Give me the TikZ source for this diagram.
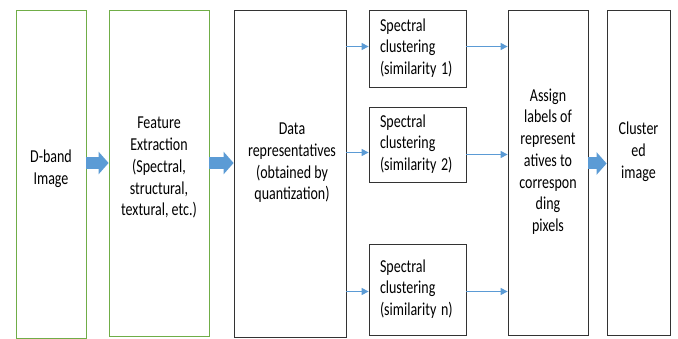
\documentclass[tikz,border=0pt]{standalone}
\usepackage{fontspec}
\setmainfont{Carlito}
\usetikzlibrary{arrows.meta}

\definecolor{boxgreen}{RGB}{112,173,71}
\definecolor{flowblue}{RGB}{91,155,213}

% text lines stretched upwards like in the picture
\newcommand{\talltext}[2][c]{\scalebox{1}[1.3]{\begin{tabular}{@{}#1@{}}#2\end{tabular}}}

\tikzset{
  greenbox/.style={draw=boxgreen, line width=0.8pt, inner sep=0pt},
  blackbox/.style={draw=black!80, line width=0.8pt, inner sep=0pt},
  scbox/.style={draw=black!80, line width=0.8pt, minimum width=97pt, text width=75pt,
    inner xsep=11pt, inner ysep=0pt, align=left},
  boxtext/.style={align=center, inner sep=0pt},
  fatarrow/.style={draw=flowblue, line width=12pt, -{Triangle[width=22pt,length=10pt]}},
  thinarrow/.style={draw=flowblue, line width=1.2pt, -{Triangle[width=7pt,length=7pt]}}
}

\begin{document}
\begin{tikzpicture}[x=1pt, y=-1pt, font=\fontsize{14}{16.7}\selectfont]
				\useasboundingbox (0,0) rectangle (678,339);
				% big boxes
				\node[greenbox, minimum width=70pt, minimum height=328pt] (band) at (51,174) {};
				\node[greenbox, minimum width=100pt, minimum height=326pt] (feat) at (159,173) {};
				\node[blackbox, minimum width=112pt, minimum height=327pt] (data) at (290,173.5) {};
				\node[blackbox, minimum width=80pt, minimum height=325pt] (assign) at (548,172.5) {};
				\node[blackbox, minimum width=63pt, minimum height=325pt] (clus) at (638.5,172.5) {};
				% texts of the big boxes
				\node[boxtext] (bandtxt) at (51,169) {\talltext{D-band\\Image}};
				\node[boxtext] (feattxt) at (159,168) {\talltext{Feature\\Extraction\\(Spectral,\\structural,\\textural, etc.)}};
				\node[boxtext] (datatxt) at (292,163) {\talltext{Data\\representatives\\(obtained by\\quantization)}};
				\node[boxtext] (assigntxt) at (548,162) {\talltext{Assign\\labels of\\represent\\atives to\\correspon\\ding\\pixels}};
				\node[boxtext] (clustxt) at (638.5,152) {\talltext{Cluster\\ed\\image}};
				% spectral clustering boxes
				\node[scbox, minimum height=77pt] (sc1) at (417.5,48.5) {\talltext[l]{Spectral\\clustering\\(similarity 1)}};
				\node[scbox, minimum height=75pt] (sc2) at (417.5,144.5) {\talltext[l]{Spectral\\clustering\\(similarity 2)}};
				\node[scbox, minimum height=91pt] (sc3) at (417.5,289.5) {\talltext[l]{Spectral\\clustering\\(similarity n)}};
				% arrows
				\draw[fatarrow] ([yshift=11pt]band.east) -- ([yshift=11pt]band.east -| feat.west);
				\draw[fatarrow] ([yshift=10pt]feat.east) -- ([yshift=10pt]feat.east -| data.west);
				\draw[fatarrow] ([yshift=9pt]assign.east) -- ([yshift=9pt]assign.east -| clus.west);
				\draw[thinarrow] ([yshift=2pt]sc1.west -| data.east) -- ([yshift=2pt]sc1.west);
				\draw[thinarrow] ([yshift=-8pt]sc2.west -| data.east) -- ([yshift=-8pt]sc2.west);
				\draw[thinarrow] ([yshift=-2pt]sc3.west -| data.east) -- ([yshift=-2pt]sc3.west);
				\draw[thinarrow] ([yshift=2pt]sc1.east) -- ([yshift=2pt]sc1.east -| assign.west);
				\draw[thinarrow] ([yshift=-10pt]sc2.east) -- ([yshift=-10pt]sc2.east -| assign.west);
				\draw[thinarrow] ([yshift=-2pt]sc3.east) -- ([yshift=-2pt]sc3.east -| assign.west);
			\end{tikzpicture}
\end{document}
